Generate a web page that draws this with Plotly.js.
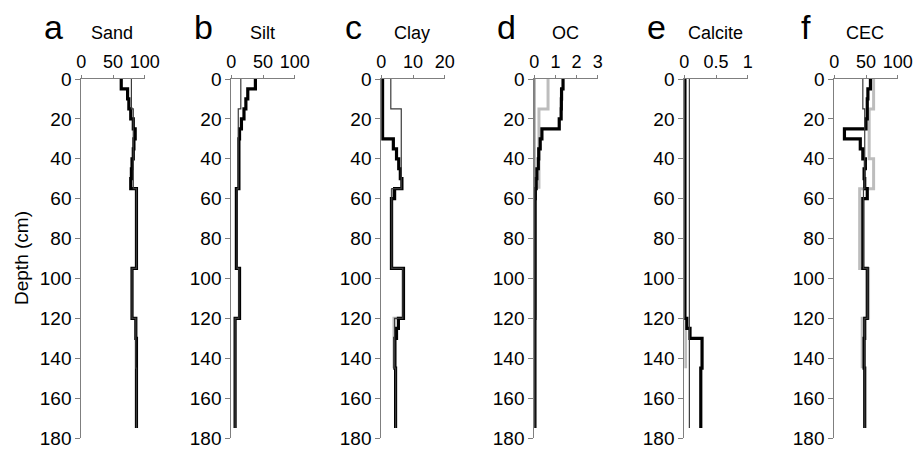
<!DOCTYPE html>
<html>
<head>
<meta charset="utf-8">
<script src="https://cdn.plot.ly/plotly-3.0.1.min.js"></script>
<style>html,body{margin:0;padding:0;background:#fff;}#chart{width:914px;height:450px;}</style>
</head>
<body>
<div id="chart"></div>
<script>
// ---- Data ----
var panelLetters = ["a", "b", "c", "d", "e", "f"];
var panelNames = ["Sand", "Silt", "Clay", "OC", "Calcite", "CEC"];
var xMax = [100, 100, 20, 3, 1, 100];
var xTicks = [[0, 50, 100], [0, 50, 100], [0, 10, 20], [0, 1, 2, 3], [0, 0.5, 1], [0, 50, 100]];
var depthTicks = [0, 20, 40, 60, 80, 100, 120, 140, 160, 180];

// Profile 1 (thick black): layer boundaries (cm)
var depth1 = [0, 5, 10, 15, 20, 25, 30, 35, 40, 45, 50, 55, 60, 95, 120, 125, 130, 145, 175];
var sand1 = [63, 73, 75, 78, 82, 85, 83, 82, 80, 79, 78, 87, 87, 80, 86, 86, 87, 87];
var silt1 = [38, 26, 23, 20, 16, 13, 12, 12, 12, 12, 12, 8, 8, 13, 6, 6, 6, 6];
var clay1 = [0.4, 0.4, 0.4, 0.4, 0.4, 0.4, 3.8, 4.8, 5.5, 6.0, 6.5, 4.2, 3.2, 7.0, 5.4, 4.8, 4.3, 4.5];
var oc1 = [1.36, 1.29, 1.28, 1.27, 1.18, 0.36, 0.28, 0.21, 0.19, 0.12, 0.09, 0.05, 0.04, 0.04, 0.03, 0.03, 0.03, 0.03];
var calcite1 = [0.01, 0.01, 0.01, 0.01, 0.01, 0.01, 0.01, 0.01, 0.01, 0.01, 0.01, 0.01, 0.01, 0.01, 0.04, 0.09, 0.28, 0.26];
var cec1 = [57, 53, 52, 52, 50, 16, 41, 45, 49, 47, 48, 52, 45, 52, 48, 48, 47, 48];

// Profile 2 (thin dark grey)
var depth2 = [0, 15, 55, 95, 120, 145, 175];
var sand2 = [79, 82, 87, 80, 86, 87];
var silt2 = [15, 11, 9, 12, 6, 6];
var clay2 = [3.0, 6.3, 3.3, 6.8, 4.2, 4.5];
var oc2 = [0.02, 0.02, 0.02, 0.02, 0.02, 0.02];
var calcite2 = [0.08, 0.08, 0.08, 0.08, 0.08, 0.08];
var cec2 = [45, 48, 46, 52, 48, 48];

// Profile 3 (thick light grey)
var depth3c = [55, 95, 120, 145];
var clay3 = [3.4, 6.9, 4.0];
var depth3d = [0, 15, 55];
var oc3 = [0.65, 0.22];
var depth3e = [120, 145];
var calcite3 = [0.02];
var depth3f = [0, 15, 40, 55, 95, 120, 145];
var cec3 = [62, 55, 62, 40, 54, 44];

// ---- Build ----
function stepTrace(depths, vals, idx, color, width) {
  var xs = vals.slice(); xs.push(vals[vals.length - 1]);
  return {
    x: xs, y: depths.slice(), type: "scatter", mode: "lines",
    line: {shape: "vh", color: color, width: width},
    xaxis: "x" + (idx === 1 ? "" : idx), yaxis: "y" + (idx === 1 ? "" : idx),
    hoverinfo: "skip", showlegend: false
  };
}
var BLACK = "#000000", THIN = "#3a3a3a", GREY = "#bdbdbd";
var traces = [
  stepTrace(depth3c, clay3, 3, GREY, 3),
  stepTrace(depth3d, oc3, 4, GREY, 3),
  stepTrace(depth3e, calcite3, 5, GREY, 3),
  stepTrace(depth3f, cec3, 6, GREY, 3),
  stepTrace(depth1, sand1, 1, BLACK, 3.2),
  stepTrace(depth1, silt1, 2, BLACK, 3.2),
  stepTrace(depth1, clay1, 3, BLACK, 3.2),
  stepTrace(depth1, oc1, 4, BLACK, 3.2),
  stepTrace(depth1, calcite1, 5, BLACK, 3.2),
  stepTrace(depth1, cec1, 6, BLACK, 3.2),
  stepTrace(depth2, sand2, 1, THIN, 1.2),
  stepTrace(depth2, silt2, 2, THIN, 1.2),
  stepTrace(depth2, clay2, 3, THIN, 1.2),
  stepTrace(depth2, oc2, 4, THIN, 1.2),
  stepTrace(depth2, calcite2, 5, THIN, 1.2),
  stepTrace(depth2, cec2, 6, THIN, 1.2)
];

var W = 914, H = 450, MB = 12;
var PH = H - MB;
var left = [81.3, 231.3, 381.3, 534.3, 684.3, 834.3];
var pw = 63.4;
var yDom = [0, 1 - 79 / PH];
var FONT = "Liberation Sans, Arial, sans-serif";
var layout = {
  width: W, height: H,
  margin: {l: 0, r: 0, t: 0, b: MB},
  paper_bgcolor: "#fff", plot_bgcolor: "rgba(0,0,0,0)",
  font: {family: FONT, color: "#000"},
  showlegend: false,
  annotations: []
};
function px(xp) { return xp / W; }
function py(yp) { return 1 - yp / PH; }
for (var i = 0; i < 6; i++) {
  var n = i + 1, s = (n === 1 ? "" : n);
  layout["xaxis" + s] = {
    domain: [left[i] / W, (left[i] + pw) / W],
    range: [0, xMax[i]], side: "top", anchor: "y" + s,
    showline: true, linecolor: "#7f7f7f", linewidth: 1,
    ticks: "outside", ticklen: 3, tickcolor: "#7f7f7f",
    tickvals: xTicks[i], ticktext: xTicks[i].map(String),
    tickfont: {size: 18, family: FONT, color: "#000"},
    ticklabeloverflow: "allow",
    showgrid: false, zeroline: false, fixedrange: true
  };
  layout["yaxis" + s] = {
    domain: yDom, range: [180, 0], anchor: "x" + s,
    showline: true, linecolor: "#7f7f7f", linewidth: 1,
    ticks: "outside", ticklen: 5, tickcolor: "#7f7f7f",
    tickmode: "array", tickvals: depthTicks, ticktext: depthTicks.map(String),
    tickfont: {size: 19, family: FONT, color: "#000"},
    ticklabeloverflow: "allow",
    showgrid: false, zeroline: false, fixedrange: true
  };
  layout.annotations.push({
    text: panelLetters[i], xref: "paper", yref: "paper",
    x: px(left[i] - 28), y: py(27), xanchor: "center", yanchor: "middle",
    showarrow: false, font: {size: 34, family: FONT, color: "#000"}
  });
  layout.annotations.push({
    text: panelNames[i], xref: "paper", yref: "paper",
    x: px(left[i] + 31), y: py(33), xanchor: "center", yanchor: "middle",
    showarrow: false, font: {size: 18, family: FONT, color: "#000"}
  });
}
layout.annotations.push({
  text: "Depth (cm)", xref: "paper", yref: "paper",
  x: px(21), y: py(258), xanchor: "center", yanchor: "middle", textangle: -90,
  showarrow: false, font: {size: 19, family: FONT, color: "#000"}
});
Plotly.newPlot("chart", traces, layout, {staticPlot: true, displayModeBar: false});
</script>
</body>
</html>
